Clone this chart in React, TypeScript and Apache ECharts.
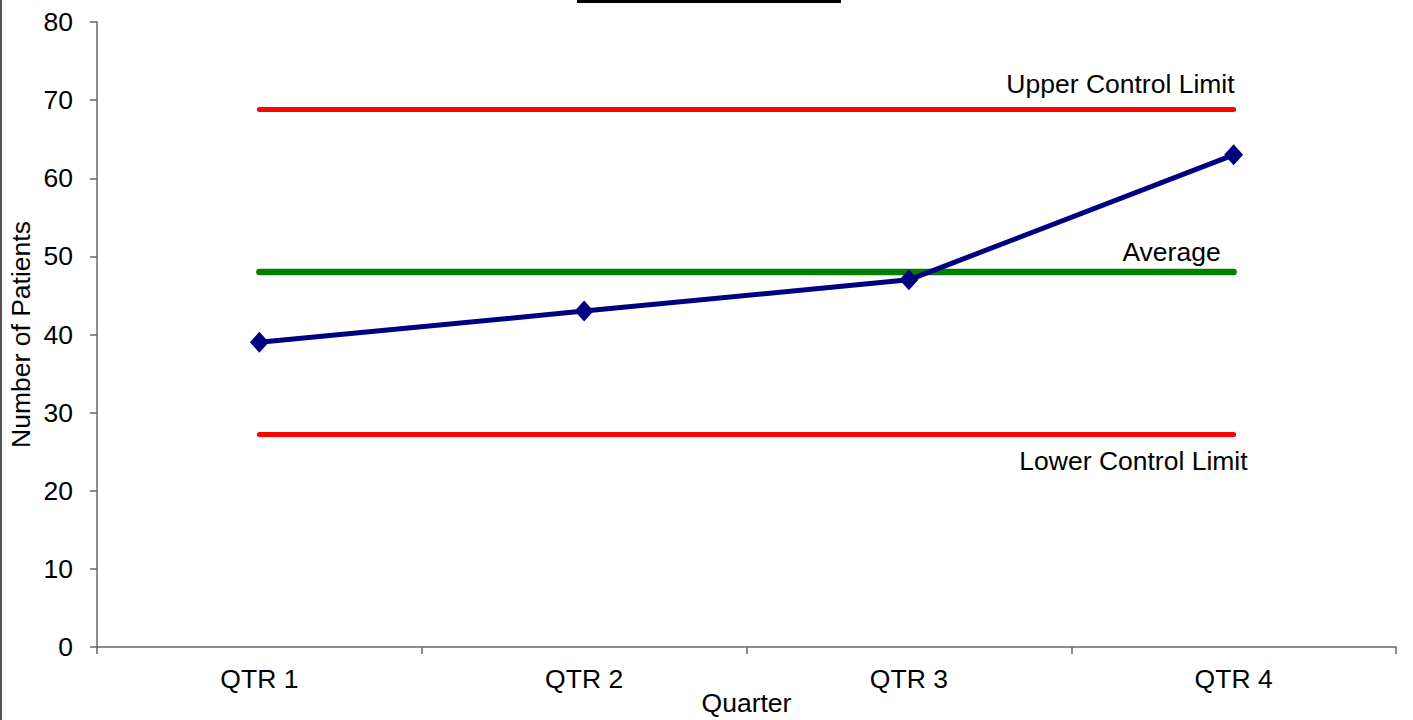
import React, { useEffect, useRef } from "react";
import * as echarts from "echarts";

const categories = ["QTR 1", "QTR 2", "QTR 3", "QTR 4"];
const patients = [39, 43, 47, 63];
const upperLimit = [68.8, 68.8, 68.8, 68.8];
const averageLine = [48, 48, 48, 48];
const lowerLimit = [27.2, 27.2, 27.2, 27.2];
const yTicks = { min: 0, max: 80, interval: 10 };

const FONT = 'Arial, "Liberation Sans", sans-serif';
const FS = 26.5;

export default function App() {
  const ref = useRef<HTMLDivElement>(null);
  useEffect(() => {
    if (!ref.current) return;
    const chart = echarts.init(ref.current, undefined, { renderer: "svg" });
    const limitLabel = (text: string, offset: number[], vAlign: string) => ({
      show: true,
      formatter: text,
      align: "right",
      verticalAlign: vAlign,
      distance: 0,
      offset,
      fontSize: FS,
      fontFamily: FONT,
      color: "#000",
    });
    chart.setOption({
      animation: false,
      textStyle: { fontFamily: FONT },
      grid: { left: 97, right: 17, top: 22, bottom: 73, containLabel: false, outerBoundsMode: "none" },
      graphic: [
        { type: "line", shape: { x1: 1, y1: 0, x2: 1, y2: 720 }, style: { stroke: "#555", lineWidth: 2 } },
        { type: "rect", shape: { x: 577, y: 0, width: 264, height: 3 }, style: { fill: "#000" } },
      ],
      xAxis: {
        type: "category",
        data: categories,
        boundaryGap: true,
        name: "Quarter",
        nameLocation: "middle",
        nameGap: 42,
        nameMoveOverlap: false,
        nameTextStyle: { fontSize: FS, color: "#000", fontFamily: FONT },
        axisLine: { lineStyle: { color: "#666", width: 1.5 } },
        axisTick: { show: true, length: 7, lineStyle: { color: "#666", width: 1.5 } },
        axisLabel: { fontSize: FS, color: "#000", margin: 18, fontFamily: FONT },
        splitLine: { show: false },
      },
      yAxis: {
        type: "value",
        min: yTicks.min,
        max: yTicks.max,
        interval: yTicks.interval,
        name: "Number of Patients",
        nameLocation: "middle",
        nameGap: 63,
        nameMoveOverlap: false,
        nameTextStyle: { fontSize: FS, color: "#000", fontFamily: FONT },
        axisLine: { show: true, lineStyle: { color: "#666", width: 1.5 } },
        axisTick: { show: true, length: 7, lineStyle: { color: "#666", width: 1.5 } },
        axisLabel: { fontSize: FS, color: "#000", margin: 24, fontFamily: FONT },
        splitLine: { show: false },
      },
      series: [
        {
          name: "Upper Control Limit",
          type: "line",
          data: upperLimit,
          symbol: "none",
          lineStyle: { color: "#ff0000", width: 5, cap: "round" },
          endLabel: limitLabel("Upper Control Limit", [1, -12], "bottom"),
          z: 2,
        },
        {
          name: "Average",
          type: "line",
          data: averageLine,
          symbol: "none",
          lineStyle: { color: "#008000", width: 6.5, cap: "round" },
          endLabel: limitLabel("Average", [-13, -7], "bottom"),
          z: 2,
        },
        {
          name: "Lower Control Limit",
          type: "line",
          data: lowerLimit,
          symbol: "none",
          lineStyle: { color: "#ff0000", width: 5, cap: "round" },
          endLabel: limitLabel("Lower Control Limit", [14, 13], "top"),
          z: 2,
        },
        {
          name: "Patients",
          type: "line",
          data: patients,
          symbol: "diamond",
          symbolSize: [19, 21],
          itemStyle: { color: "#000080" },
          lineStyle: { color: "#000080", width: 5 },
          z: 3,
        },
      ],
    });
    return () => chart.dispose();
  }, []);
  return (
    <div
      ref={ref}
      style={{ position: "fixed", left: 0, top: 0, width: 1413, height: 720, background: "#fff" }}
    />
  );
}
